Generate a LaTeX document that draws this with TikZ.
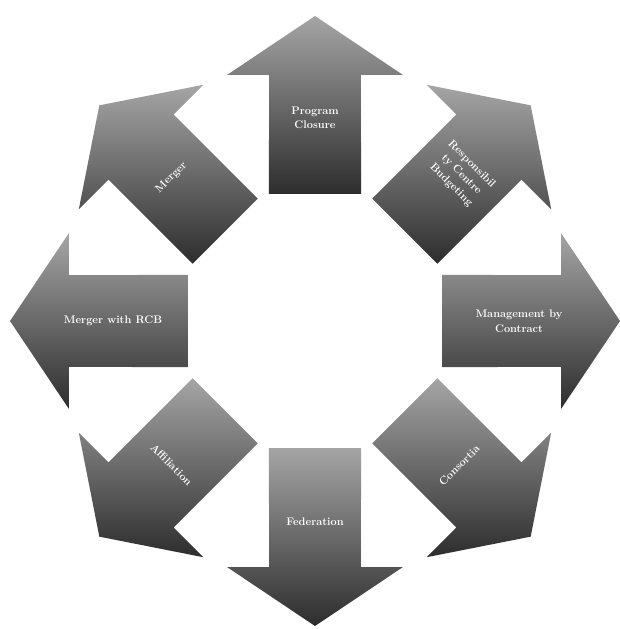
\documentclass[tikz,border=0pt]{standalone}
\definecolor{arrowlight}{RGB}{165,165,165}
\definecolor{arrowdark}{RGB}{45,45,45}
\tikzset{
  arrowbody/.style={shade, top color=arrowlight, bottom color=arrowdark, draw=none},
  arrowtext/.style={text=white, font=\fontsize{11}{14.5}\selectfont\bfseries, align=center, inner sep=1pt}
}
\begin{document}
\begin{tikzpicture}[x=1pt,y=1pt]
	\useasboundingbox (-315,-308) rectangle (304,321);
	% the eight arrows round the centre
	\foreach \ang in {0,45,...,315}{
		\path[arrowbody] (\ang-19.91:135.1) -- (\ang-10.59:250.3) -- (\ang-19.68:261.3)
			-- (\ang:305) -- (\ang+19.68:261.3) -- (\ang+10.59:250.3) -- (\ang+19.91:135.1) -- cycle;
	}
	\node[arrowtext] (closure)     at (90:203)   {Program\\Closure};
	\node[arrowtext, rotate=-45] (budgeting) at (45:207) {Responsibil\\ty Centre\\Budgeting};
	\node[arrowtext] (contract)    at (0:204)    {Management by\\Contract};
	\node[arrowtext, rotate=45] (consortia) at (-45:204) {Consortia};
	\node[arrowtext] (federation)  at (-90:201)  {Federation};
	\node[arrowtext, rotate=-45] (affiliation) at (-135:203) {Affiliation};
	\node[arrowtext] (mergerrcb)   at (180:202)  {Merger with RCB};
	\node[arrowtext, rotate=45] (merger) at (135:203) {Merger};
\end{tikzpicture}
\end{document}
